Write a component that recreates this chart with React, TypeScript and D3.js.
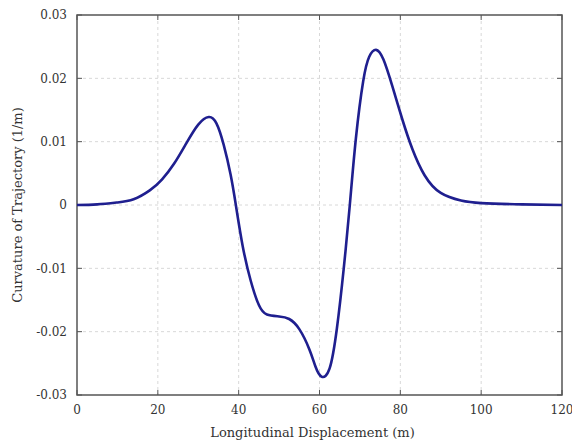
import React from "react";
import * as d3 from "d3";

const xValues = [0, 5, 10, 14, 18, 21, 24, 27, 30, 32.6, 34.5, 36.3, 38, 39.3, 41, 43, 45, 47, 50, 52.5, 55, 57.5, 59, 60.5, 62.5, 64.3, 66, 67.5, 69, 70.8, 72.3, 74, 75.8, 78, 80.5, 83, 86, 90, 95, 100, 110, 120];
const yValues = [0, 0.0001, 0.0004, 0.0009, 0.0023, 0.004, 0.0065, 0.0097, 0.0127, 0.0139, 0.0129, 0.0095, 0.0048, 0, -0.0065, -0.012, -0.0158, -0.0173, -0.0176, -0.018, -0.0196, -0.0228, -0.0255, -0.0271, -0.0258, -0.0195, -0.01, 0, 0.0105, 0.0195, 0.0234, 0.0245, 0.023, 0.0188, 0.0135, 0.0088, 0.0047, 0.0019, 0.0007, 0.0003, 0.0001, 0];
const xTicks = [0, 20, 40, 60, 80, 100, 120];
const yTicks = [-0.03, -0.02, -0.01, 0, 0.01, 0.02, 0.03];
const yTickLabels = ["-0.03", "-0.02", "-0.01", "0", "0.01", "0.02", "0.03"];
const xTitle = "Longitudinal Displacement (m)";
const yTitle = "Curvature of Trajectory (1/m)";

export default function App() {
  const W = 572, H = 440;
  const L = 77, R = 562, T = 15, B = 395;
  const x = d3.scaleLinear().domain([0, 120]).range([L, R]);
  const y = d3.scaleLinear().domain([-0.03, 0.03]).range([B, T]);
  const data = xValues.map((v, i) => [v, yValues[i]] as [number, number]);
  const line = d3.line<[number, number]>().x(d => x(d[0])).y(d => y(d[1])).curve(d3.curveNatural);
  const font = "'DejaVu Serif', serif";
  const axisColor = "#555";
  const textColor = "#333";
  return (
    <svg width={W} height={H} style={{ position: "absolute", left: 0, top: 0, background: "#fff" }}>
      {xTicks.filter(t => t > 0 && t < 120).map(t => (
        <line key={"gx" + t} x1={x(t)} x2={x(t)} y1={T} y2={B} stroke="#d8d8d8" strokeWidth={1} strokeDasharray="3,3" />
      ))}
      {yTicks.filter(t => t > -0.03 && t < 0.03).map(t => (
        <line key={"gy" + t} x1={L} x2={R} y1={y(t)} y2={y(t)} stroke="#d8d8d8" strokeWidth={1} strokeDasharray="3,3" />
      ))}
      {xTicks.map(t => (
        <g key={"tx" + t}>
          <line x1={x(t)} x2={x(t)} y1={B} y2={B - 5} stroke={axisColor} strokeWidth={1} />
          <line x1={x(t)} x2={x(t)} y1={T} y2={T + 5} stroke={axisColor} strokeWidth={1} />
          <text x={x(t)} y={414} textAnchor="middle" fontFamily={font} fontSize={12} fill={textColor}>{t}</text>
        </g>
      ))}
      {yTicks.map((t, i) => (
        <g key={"ty" + t}>
          <line x1={L} x2={L + 5} y1={y(t)} y2={y(t)} stroke={axisColor} strokeWidth={1} />
          <line x1={R} x2={R - 5} y1={y(t)} y2={y(t)} stroke={axisColor} strokeWidth={1} />
          <text x={67} y={y(t)} dy="0.35em" textAnchor="end" fontFamily={font} fontSize={12} fill={textColor}>{yTickLabels[i]}</text>
        </g>
      ))}
      <rect x={L} y={T} width={R - L} height={B - T} fill="none" stroke={axisColor} strokeWidth={1.5} />
      <path d={line(data) || ""} fill="none" stroke="#1f1f8f" strokeWidth={2.6} strokeLinejoin="round" />
      <text x={(L + R) / 2 - 7} y={437} textAnchor="middle" fontFamily={font} fontSize={13} fill={textColor}>{xTitle}</text>
      <text transform={`translate(22,${(T + B) / 2}) rotate(-90)`} textAnchor="middle" fontFamily={font} fontSize={13} fill={textColor}>{yTitle}</text>
    </svg>
  );
}
